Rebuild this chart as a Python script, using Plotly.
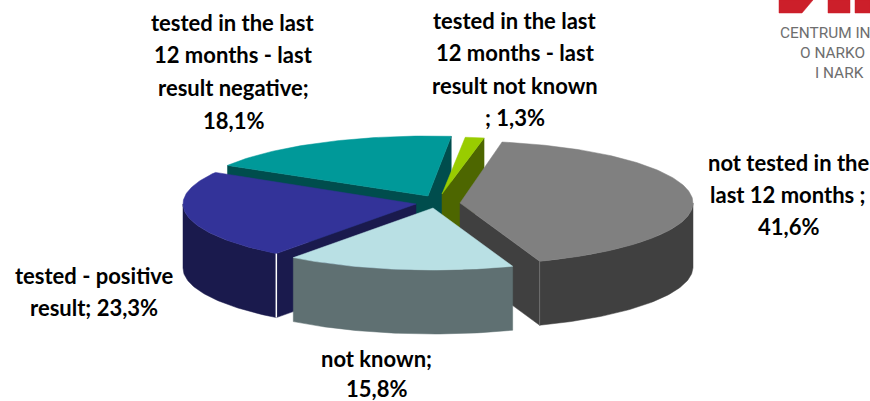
import math
import plotly.graph_objects as go

# --- data ---
categories = ["not tested in the last 12 months", "not known", "tested - positive result",
              "tested in the last 12 months - last result negative",
              "tested in the last 12 months - last result not known"]
values = [41.6, 15.8, 23.3, 18.1, 1.3]
label_lines = [["not tested in the", "last 12 months ;", ""],
               ["not known;", ""],
               ["tested - positive", "result; "],
               ["tested in the last", "12 months - last", "result negative;", ""],
               ["tested in the last", "12 months - last", "result not known", "; "]]

# --- style / layout ---
top_colors = ["#808080", "#b9e0e4", "#333399", "#009999", "#99cc00"]
wall_colors = ["#404040", "#5f7072", "#1a1a4d", "#004d4d", "#4d6600"]
apex_px = [(460, 203), (433, 208), (416, 204), (428, 196), (442, 194)]
radius_y = [62, 62, 62, 60, 57]
draw_order = [3, 4, 0, 2, 1]
label_anchor = [(788, [162, 194, 226]), (376, [358, 388]), (94, [275, 307]),
                (233, [22, 54, 87, 120]), (515, [20, 52, 85, 117])]
start_angle = -79.6
radius_x = 233
depth = 64
font = "Lato, Carlito, sans-serif"

fig = go.Figure()


def poly(xs, ys, color):
    fig.add_trace(go.Scatter(x=xs, y=ys, mode="lines", fill="toself", fillcolor=color,
                             line=dict(color=color, width=0.5), hoverinfo="skip", showlegend=False))


def arc(i, a, b):
    n = max(2, int(abs(b - a)) + 1)
    ang = [a + (b - a) * k / (n - 1) for k in range(n)]
    cx, cy = apex_px[i]
    return ([cx + radius_x * math.cos(math.radians(t)) for t in ang],
            [cy + radius_y[i] * math.sin(math.radians(t)) for t in ang])


total = sum(values)
spans = []
a = start_angle
for v in values:
    b = a + v / total * 360
    spans.append((a, b))
    a = b

for i in draw_order:
    a, b = spans[i]
    cx, cy = apex_px[i]
    # radial walls
    for ang, visible in ((a, math.cos(math.radians(a)) < 0), (b, math.cos(math.radians(b)) > 0)):
        if visible:
            ex = cx + radius_x * math.cos(math.radians(ang))
            ey = cy + radius_y[i] * math.sin(math.radians(ang))
            poly([cx, ex, ex, cx, cx], [cy, ey, ey + depth, cy + depth, cy], wall_colors[i])
    # outer wall
    for k in (-1, 0):
        lo, hi = max(a, 360 * k), min(b, 360 * k + 180)
        if hi > lo:
            xs, ys = arc(i, lo, hi)
            poly(xs + xs[::-1] + xs[:1], ys + [y + depth for y in ys[::-1]] + ys[:1], wall_colors[i])
    # top face
    xs, ys = arc(i, a, b)
    fig.add_trace(go.Scatter(x=[cx] + xs + [cx], y=[cy] + ys + [cy], mode="lines", fill="toself",
                             fillcolor=top_colors[i], line=dict(color=top_colors[i], width=0.5),
                             hoverinfo="skip", showlegend=False, name=categories[i]))
    # corner edges between walls
    if i == 2:
        x0, y0 = arc(i, a, a + 1)
        fig.add_trace(go.Scatter(x=[x0[0], x0[0]], y=[y0[0], y0[0] + depth], mode="lines",
                                 line=dict(color="white", width=1.5), hoverinfo="skip", showlegend=False))
    if i == 0:
        x0, y0 = arc(i, b, b + 1)
        fig.add_trace(go.Scatter(x=[x0[0], x0[0]], y=[y0[0], y0[0] + depth], mode="lines",
                                 line=dict(color="#808080", width=0.7), hoverinfo="skip", showlegend=False))

annotations = []
for lines, v, (x, ys) in zip(label_lines, values, label_anchor):
    val = f"{v:.1f}".replace(".", ",") + "%"
    for j, (line, y) in enumerate(zip(lines, ys)):
        text = line + val if j == len(lines) - 1 else line
        annotations.append(dict(x=x, y=y, text=f"<b>{text}</b>", showarrow=False, xref="x", yref="y",
                                xanchor="center", yanchor="middle",
                                font=dict(family=font, size=22, color="#000000")))

# logo (cropped at the page edge in the reference)
logo_text = [("CENTRUM IN", 778, 33), ("O NARKO", 798, 53), ("I NARK", 813, 73)]
for t, x, y in logo_text:
    annotations.append(dict(x=x, y=y, text=t, showarrow=False, xref="x", yref="y", xanchor="left",
                            yanchor="middle", font=dict(family="Roboto, sans-serif",
                                                        size=15.4, color="#6e6e6e")))
logo_polys = [([779, 813, 802, 779], [0, 0, 13, 13]),
              ([828, 850, 850, 828], [0, 0, 13, 13]),
              ([855, 870, 870, 855], [0, 0, 13, 13])]
for xs, ys in logo_polys:
    poly(xs + xs[:1], ys + ys[:1], "#cc1f2a")

fig.update_layout(width=870, height=401, margin=dict(l=0, r=0, t=0, b=0),
                  paper_bgcolor="white", plot_bgcolor="white", showlegend=False,
                  xaxis=dict(range=[0, 870], visible=False, fixedrange=True),
                  yaxis=dict(range=[401, 0], visible=False, fixedrange=True),
                  annotations=annotations)
fig.write_html("out.html", config={"displayModeBar": False},
               post_script="document.body.style.margin='0';document.body.style.overflow='hidden';")
